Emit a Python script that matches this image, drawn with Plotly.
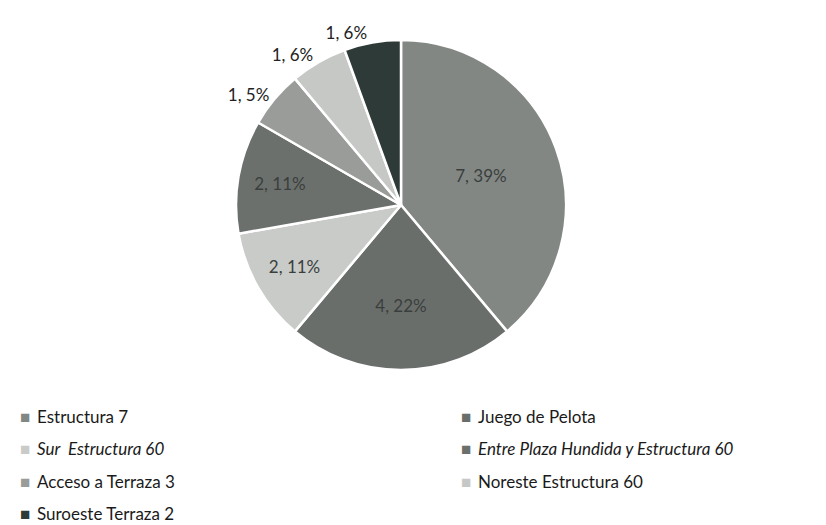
import plotly.graph_objects as go

labels = ["Estructura 7", "Juego de Pelota", "<i>Sur  Estructura 60</i>",
          "<i>Entre Plaza Hundida y Estructura 60</i>", "Acceso a Terraza 3",
          "Noreste Estructura 60", "Suroeste Terraza 2"]
values = [7, 4, 2, 2, 1, 1, 1]
pct_labels = ["39%", "22%", "11%", "11%", "5%", "6%", "6%"]
colors = ["#838784", "#6a6e6b", "#c9cbc9", "#6c706d", "#999c99", "#c6c8c6", "#2e3a37"]
positions = ["inside", "inside", "inside", "inside", "outside", "outside", "outside"]

W, H = 826, 525
cx, cy, r = 393, 197, 165

text = [f"{v}, {p}" for v, p in zip(values, pct_labels)]
fig = go.Figure(go.Pie(
    labels=labels, values=values, text=text, textinfo="text",
    textposition=positions, sort=False, direction="clockwise", rotation=0,
    marker=dict(colors=colors, line=dict(color="white", width=2.5)),
    insidetextorientation="horizontal",
    textfont=dict(family="Lato", size=17, color="#3a3f3d"),
    outsidetextfont=dict(family="Lato", size=17, color="#222222"),
    domain=dict(x=[(cx - r) / W, (cx + r) / W], y=[1 - (cy + r) / H, 1 - (cy - r) / H]),
    showlegend=False,
))

# legend built as annotations (two columns)
leg_x = [17, 458, 17, 458, 17, 458, 17]
leg_y = [408, 408, 440, 440, 473, 473, 505]
anns = []
for lab, col, lx, ly in zip(labels, colors, leg_x, leg_y):
    anns.append(dict(x=lx / W, y=1 - ly / H, xref="paper", yref="paper",
                     text=f"<span style='color:{col}'>■</span>", showarrow=False,
                     xanchor="center", yanchor="middle", font=dict(size=17)))
    anns.append(dict(x=(lx + 10) / W, y=1 - ly / H, xref="paper", yref="paper",
                     text=lab, showarrow=False, xanchor="left", yanchor="middle",
                     font=dict(family="Lato", size=17, color="#1a1a1a")))

fig.update_layout(width=W, height=H, margin=dict(l=0, r=0, t=0, b=0),
                  paper_bgcolor="white", plot_bgcolor="white", annotations=anns)
fig.write_html("out.html")
